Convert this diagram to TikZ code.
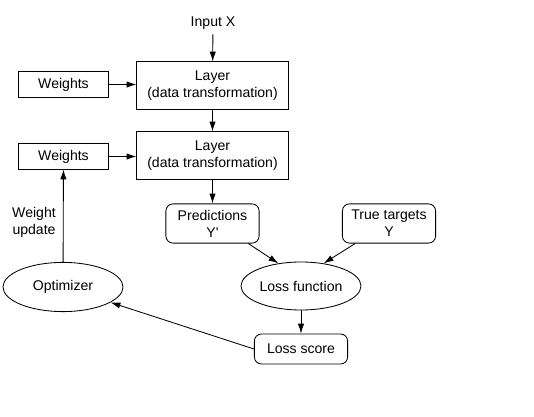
\documentclass[tikz,border=0pt]{standalone}
\usepackage{fontspec}
\setmainfont{Liberation Sans}
\usetikzlibrary{shapes.geometric,arrows.meta}

\begin{document}
\begin{tikzpicture}[line width=0.6pt,>={Latex[length=7pt,width=4.5pt]},
		box/.style={draw,shape=rectangle,inner sep=0pt,align=center},
		roundbox/.style={box,rounded corners=5pt,minimum width=2.33cm,minimum height=0.98cm},
		oval/.style={draw,shape=ellipse,inner sep=0pt,minimum width=3cm,minimum height=1.2cm}]
			\useasboundingbox (0,0) rectangle (13.35,-10.425);
			\node (Input) at (5.325,-0.575) {Input X};
			\node [box,minimum width=3.78cm,minimum height=1.18cm] (Layer1) at (5.3125,-2.1375)
				{Layer\\(data transformation)};
			\node [box,minimum width=3.78cm,minimum height=1.18cm] (Layer2) at (5.3125,-3.8875)
				{Layer\\(data transformation)};
			\node [box,minimum width=2.23cm,minimum height=0.63cm] (Weights1) at (1.5875,-2.1125) {Weights};
			\node [box,minimum width=2.23cm,minimum height=0.63cm] (Weights2) at (1.5875,-3.9125) {Weights};
			\node [roundbox] (Pred) at (5.3125,-5.5875) {Predictions\\Y\textquotesingle};
			\node [roundbox] (Targets) at (9.725,-5.5875) {True targets\\Y};
			\node [oval] (LossFn) at (7.525,-7.15) {Loss function};
			\node [roundbox,minimum height=0.75cm] (Score) at (7.525,-8.725) {Loss score};
			\node [oval,minimum height=1.23cm] (Optim) at (1.575,-7.175) {Optimizer};
			\node [align=center] (Update) at (0.85,-5.55) {Weight\\update};
			\draw[->] (Input) -- (Layer1);
			\draw[->] (Weights1) -- (Weights1 -| Layer1.west);
			\draw[->] (Layer1) -- (Layer2);
			\draw[->] (Weights2) -- (Weights2 -| Layer2.west);
			\draw[->] (Layer2) -- (Pred);
			\draw[->] ([xshift=-0.28cm]Pred.south east) -- (LossFn.135);
			\draw[->] ([xshift=0.33cm]Targets.south west) -- (LossFn.45);
			\draw[->] (LossFn) -- (Score);
			\draw[->] (Score.west) -- (Optim);
			\draw[->] (Optim) -- (Weights2);
		\end{tikzpicture}
\end{document}
